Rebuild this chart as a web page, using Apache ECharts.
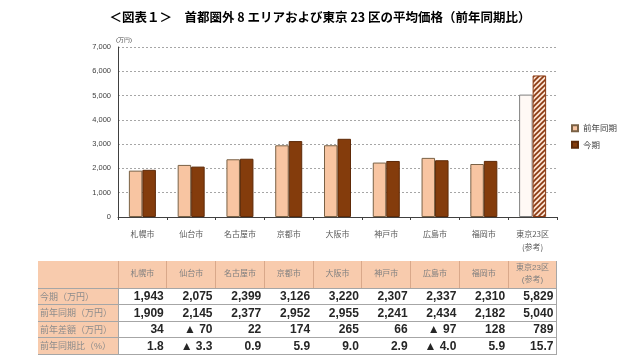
<!DOCTYPE html>
<html><head><meta charset="utf-8">
<script src="https://cdn.jsdelivr.net/npm/echarts@6/dist/echarts.min.js"></script>
<style>
html,body{margin:0;padding:0;background:#fff;}
#wrap{position:relative;width:640px;height:363px;overflow:hidden;}
#chart{position:absolute;left:0;top:0;width:640px;height:363px;}
#tbl{position:absolute;left:38px;top:261px;width:519px;border-collapse:collapse;font-family:"Liberation Sans","Noto Sans CJK JP",sans-serif;table-layout:fixed;}
#tbl td{padding:0;border-bottom:1px solid #a6a6a6;box-sizing:border-box;overflow:hidden;white-space:nowrap;}
#tbl .hd{background:#F8CBAD;color:#808080;font-size:8px;text-align:center;height:27px;line-height:12px;border-right:1px solid #d9a88a;}
#tbl .rl{background:#F8CBAD;color:#8c8c8c;font-size:9px;text-align:left;padding-left:2px;height:16.5px;border-right:1px solid #a6a6a6;}
#tbl .v{font-size:12px;font-weight:bold;color:#262626;text-align:right;padding-right:3px;height:16.5px;}
#tbl .last{border-right:1px solid #a6a6a6;}
</style></head>
<body><div id="wrap"><div id="chart"></div><table id="tbl"></table></div>
<script>
const categories = ['札幌市','仙台市','名古屋市','京都市','大阪市','神戸市','広島市','福岡市','東京23区\n(参考)'];
const tableHeaders = ['札幌市','仙台市','名古屋市','京都市','大阪市','神戸市','広島市','福岡市','東京23区<br>(参考)'];
const currentPeriod = [1943, 2075, 2399, 3126, 3220, 2307, 2337, 2310, 5829];
const previousYear = [1909, 2145, 2377, 2952, 2955, 2241, 2434, 2182, 5040];
const yearDiff = ['34','▲ 70','22','174','265','66','▲ 97','128','789'];
const yearRatio = ['1.8','▲ 3.3','0.9','5.9','9.0','2.9','▲ 4.0','5.9','15.7'];
const rowLabels = ['今期（万円）','前年同期（万円）','前年差額（万円）','前年同期比（%）'];
const seriesNames = ['前年同期','今期'];
const yTicks = {min:0, max:7000, interval:1000};

// pattern for Tokyo current
const pc = document.createElement('canvas'); pc.width = 5; pc.height = 5;
const g = pc.getContext('2d');
g.fillStyle = '#FBE3D3'; g.fillRect(0,0,5,5);
g.strokeStyle = '#8B3A12'; g.lineWidth = 1.6;
g.beginPath(); g.moveTo(-1,6); g.lineTo(6,-1); g.stroke();
g.beginPath(); g.moveTo(-1,1); g.lineTo(1,-1); g.stroke();
g.beginPath(); g.moveTo(4,6); g.lineTo(6,4); g.stroke();

const prevData = previousYear.map((v,i)=> i===categories.length-1 ?
  {value:v, itemStyle:{color:'#FFF9F5', borderColor:'#7f7f7f'}} : v);
const curData = currentPeriod.map((v,i)=> i===categories.length-1 ?
  {value:v, itemStyle:{color:{image:pc, repeat:'repeat'}, borderColor:'#8B3A12'}} : v);

const chart = echarts.init(document.getElementById('chart'), null, {renderer:'canvas'});
chart.setOption({
  animation:false,
  title:{text:'＜図表１＞　首都圏外 8 エリアおよび東京 23 区の平均価格（前年同期比）', left:'center', top:6,
    textStyle:{fontSize:12.5, fontWeight:'bold', color:'#000', fontFamily:'"Noto Sans CJK JP"'}},
  grid:{left:118, right:83, top:47, bottom:146, containLabel:false},
  legend:{orient:'vertical', left:566, top:119, itemWidth:6, itemHeight:6, itemGap:8,
    textStyle:{fontSize:8.5, color:'#404040', fontFamily:'"Noto Sans CJK JP"'},
    data:[{name:'前年同期', icon:'rect'},{name:'今期', icon:'rect'}]},
  xAxis:{type:'category', data:categories,
    axisLine:{lineStyle:{color:'#404040', width:1}},
    axisTick:{show:true, length:3, lineStyle:{color:'#404040'}},
    axisLabel:{fontSize:8, color:'#595959', margin:10, lineHeight:13, fontFamily:'"Noto Sans CJK JP"'}},
  yAxis:{type:'value', min:yTicks.min, max:yTicks.max, interval:yTicks.interval,
    name:'(万円)', nameGap:4, nameTextStyle:{fontSize:6, color:'#404040', align:'left', padding:[0,0,0,-2]},
    axisLine:{show:true, lineStyle:{color:'#404040'}},
    axisTick:{show:false},
    axisLabel:{fontSize:7.5, color:'#404040', margin:7, formatter:v=>v.toLocaleString('en-US')},
    splitLine:{lineStyle:{color:'#a6a6a6', type:[2,2], width:1}}},
  series:[
    {name:seriesNames[0], type:'bar', data:prevData, barWidth:13.5, barGap:'0%',
      itemStyle:{color:'#F8C5A2', borderColor:'#7A6246', borderWidth:1}},
    {name:seriesNames[1], type:'bar', data:curData, barWidth:13.5,
      itemStyle:{color:'#843C0C', borderColor:'#5E2A08', borderWidth:1}}
  ]
});

// table
const tbl = document.getElementById('tbl');
let html = '<colgroup><col style="width:80px">' + tableHeaders.map(()=> '<col style="width:48.78px">').join('') + '</colgroup>';
html += '<tr><td class="hd"></td>';
tableHeaders.forEach((h,i)=>{ html += `<td class="hd${i===tableHeaders.length-1?' last':''}">${h}</td>`; });
html += '</tr>';
const rows = [currentPeriod.map(v=>v.toLocaleString('en-US')), previousYear.map(v=>v.toLocaleString('en-US')), yearDiff, yearRatio];
rows.forEach((r,ri)=>{
  html += `<tr><td class="rl">${rowLabels[ri]}</td>`;
  r.forEach((c,i)=>{ html += `<td class="v${i===r.length-1?' last':''}">${c}</td>`; });
  html += '</tr>';
});
tbl.innerHTML = html;
</script></body></html>
